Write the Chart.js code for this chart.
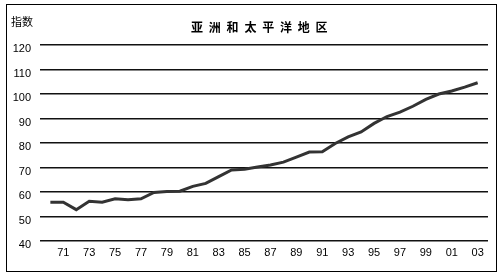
<!DOCTYPE html>
<html>
<head>
<meta charset="utf-8">
<script src="https://cdn.jsdelivr.net/npm/chart.js@4/dist/chart.umd.min.js"></script>
<style>
  html,body{margin:0;padding:0;background:#fff;}
  #wrap{width:504px;height:279px;}
</style>
</head>
<body>
<div id="wrap"><canvas id="myChart" width="504" height="279"></canvas></div>
<script>
// yearly index, Asia-Pacific
var years=[1970,1971,1972,1973,1974,1975,1976,1977,1978,1979,1980,1981,1982,1983,1984,1985,1986,1987,1988,1989,1990,1991,1992,1993,1994,1995,1996,1997,1998,1999,2000,2001,2002,2003];
var index_vals=[55.8,55.8,52.8,56.2,55.8,57.2,56.8,57.2,59.8,60.2,60.3,62.3,63.5,66.3,69.0,69.3,70.2,71.0,72.2,74.2,76.3,76.4,79.8,82.5,84.5,88.0,90.8,92.6,95.0,97.8,100.0,101.2,102.8,104.6];
var tick_years=[1971,1973,1975,1977,1979,1981,1983,1985,1987,1989,1991,1993,1995,1997,1999,2001,2003];
var y_ticks=[40,50,60,70,80,90,100,110,120];
var title_chars=['亚','洲','和','太','平','洋','地','区'];
var y_title='指数';

var pts=[];
for(var i=0;i<years.length;i++){
  pts.push({x:years[i],y:index_vals[i]});
}

var frame={
  id:'frame',
  afterDraw:function(chart){
    var c=chart.ctx;
    c.save();
    c.strokeStyle='#000';
    c.lineWidth=1;
    c.strokeRect(6.5,4.5,490,267);
    c.fillStyle='#000';
    c.textBaseline='middle';
    c.textAlign='center';
    c.font='bold 12px "Noto Sans CJK SC"';
    for(var k=0;k<title_chars.length;k++){
      c.fillText(title_chars[k],197+k*17.8,27);
    }
    c.textAlign='left';
    c.font='11px "Noto Sans CJK SC"';
    c.fillText(y_title,11,22);
    c.restore();
  }
};

var ctx=document.getElementById('myChart').getContext('2d');
var chart=new Chart(ctx,{
  type:'line',
  data:{
    datasets:[{
      label:'指数',
      data:pts,
      borderColor:'#333',
      borderWidth:3,
      pointRadius:0,
      tension:0,
      fill:false
    }]
  },
  options:{
    responsive:false,
    animation:false,
    layout:{padding:{left:0,top:45,right:16,bottom:18}},
    plugins:{legend:{display:false},tooltip:{enabled:false},title:{display:false}},
    scales:{
      x:{
        type:'linear',
        min:1969.2,
        max:2003.8,
        grid:{display:false,drawTicks:false},
        border:{display:false},
        afterBuildTicks:function(s){ s.ticks=tick_years.map(function(v){return {value:v};}); },
        afterFit:function(s){ s.height=20; },
        ticks:{
          autoSkip:false,
          maxRotation:0,
          padding:5,
          color:'#000',
          font:{family:'"Liberation Sans"',size:11},
          callback:function(v){ return String(v).slice(2); }
        }
      },
      y:{
        min:40,
        max:120,
        grid:{color:'#111',lineWidth:1.5,drawTicks:false},
        border:{display:false},
        afterBuildTicks:function(s){ s.ticks=y_ticks.map(function(v){return {value:v};}); },
        afterFit:function(s){ s.width=40; },
        ticks:{
          padding:9,
          labelOffset:4,
          color:'#000',
          font:{family:'"Liberation Sans"',size:11}
        }
      }
    }
  },
  plugins:[frame]
});
</script>
</body>
</html>
